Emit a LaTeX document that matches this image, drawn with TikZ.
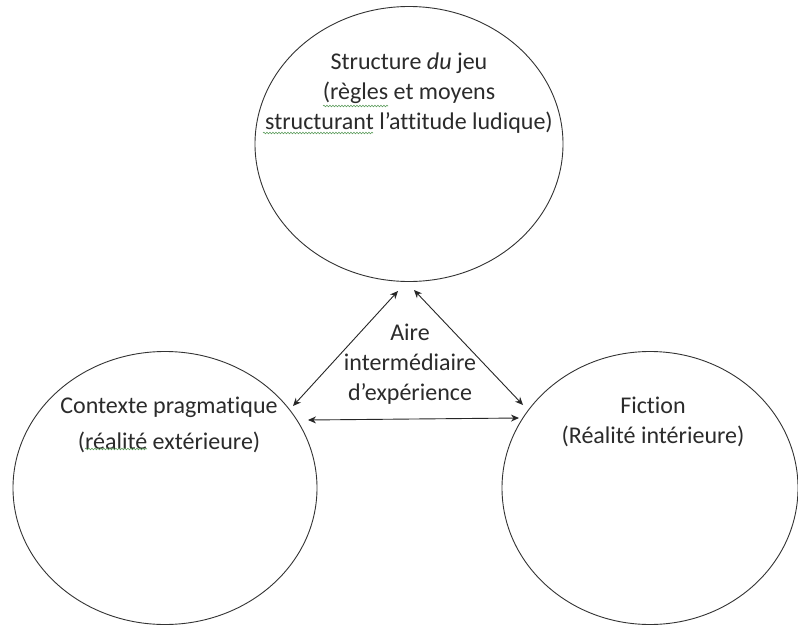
\documentclass[tikz,border=0pt]{standalone}
\usepackage{fontspec}
\setmainfont{Carlito}[Ligatures=NoCommon]
\usetikzlibrary{arrows.meta,shapes.geometric,decorations.pathmorphing}
\definecolor{txt}{HTML}{2B2B2B}
\definecolor{spell}{HTML}{5E9E5E}
\begin{document}
\begin{tikzpicture}[x=1pt,y=-1pt,
  ring/.style={draw=black!80,line width=0.9pt,ellipse,inner sep=0pt},
  lbl/.style={text=txt,align=center,font=\fontsize{24}{30}\selectfont,inner sep=0pt},
  link/.style={draw=black!85,line width=0.9pt,{Stealth[length=8pt,width=7pt]}-{Stealth[length=8pt,width=7pt]}},
  squig/.style={draw=spell,line width=0.6pt,decorate,decoration={snake,amplitude=0.8pt,segment length=3pt}}]
\useasboundingbox (0,0) rectangle (798,627);
\fill[white] (0,0) rectangle (798,627);
% ellipses
\node[ring,minimum width=308pt,minimum height=275pt] (top) at (409,144) {};
\node[ring,minimum width=304pt,minimum height=273pt] (left) at (165,488) {};
\node[ring,minimum width=296pt,minimum height=273pt] (right) at (650,488) {};
% labels
\node[lbl] (ttop) at (409,93) {Structure \textit{du} jeu\\(règles et moyens\\structurant l’attitude ludique)};
\node[lbl] (tleft) at (169,425) {Contexte pragmatique\\[6pt](réalité extérieure)};
\node[lbl] (tright) at (653,422) {Fiction\\(Réalité intérieure)};
\node[lbl] (tmid) at (410,364) {Aire\\intermédiaire\\d’expérience};
% connector ends
\coordinate (a1) at (398,291);
\coordinate (a2) at (293,406);
\coordinate (b1) at (414,290);
\coordinate (b2) at (523,405);
\coordinate (c1) at (308,420);
\coordinate (c2) at (519,418);
\draw[link] (a2) -- (a1);
\draw[link] (b1) -- (b2);
\draw[link] (c1) -- (c2);
% spelling marks
\draw[squig] (323,106) -- (388,106);
\draw[squig] (263,133) -- (373,133);
\draw[squig] (85,449) -- (147,449);
\end{tikzpicture}
\end{document}
